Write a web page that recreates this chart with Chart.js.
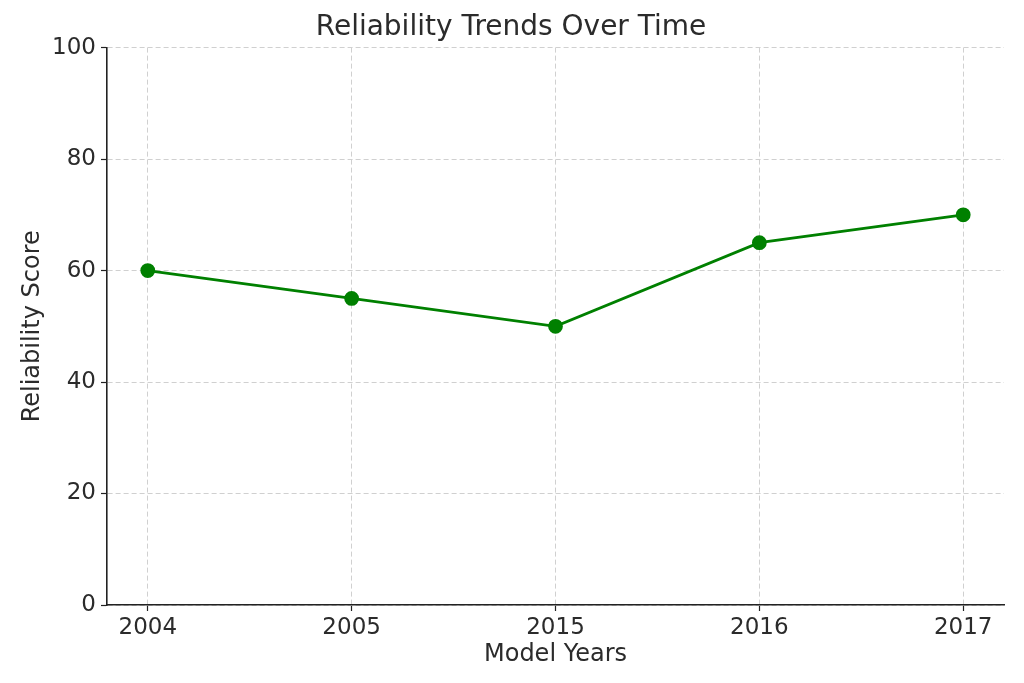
<!DOCTYPE html>
<html lang="en">
<head>
  <meta charset="UTF-8" />
  <title>Reliability Trends Over Time</title>
  <script src="https://cdn.jsdelivr.net/npm/chart.js"></script>
  <style>
    html, body { margin: 0; padding: 0; background: #fff; }
  </style>
</head>
<body>
  <canvas id="trendChart" width="1024" height="683"></canvas>
  <script>
    const years = ['2004', '2005', '2015', '2016', '2017'];
    const scores = [60, 55, 50, 65, 70];
    const yTicks = [0, 20, 40, 60, 80, 100];

    const textColor = '#2b2b2b';
    const axisColor = '#222';
    const gridColor = '#d0d0d0';
    const font = 'DejaVu Sans';

    new Chart(document.getElementById('trendChart'), {
      type: 'line',
      data: {
        datasets: [{
          label: 'Reliability Score',
          data: scores.map((v, i) => ({ x: i, y: v })),
          borderColor: '#008000',
          backgroundColor: '#008000',
          borderWidth: 2.8,
          pointRadius: 6,
          pointHoverRadius: 6,
          tension: 0,
          fill: false
        }]
      },
      options: {
        responsive: false,
        animation: false,
        layout: { padding: { left: 18, right: 20, top: 0, bottom: 14 } },
        plugins: {
          legend: { display: false },
          tooltip: { enabled: false },
          title: {
            display: true,
            text: 'Reliability Trends Over Time',
            color: textColor,
            font: { family: font, size: 28, weight: 'normal' },
            padding: { top: 11, bottom: 3 }
          }
        },
        scales: {
          x: {
            type: 'linear',
            min: -0.2,
            max: years.length - 1 + 0.2,
            afterBuildTicks: s => { s.ticks = years.map((_, i) => ({ value: i })); },
            afterFit: s => { s.height = 64; },
            ticks: {
              callback: v => years[v],
              color: textColor,
              font: { family: font, size: 23 },
              padding: 3,
              maxRotation: 0
            },
            grid: {
              color: gridColor,
              tickLength: 6,
              tickColor: axisColor,
              tickBorderDash: [],
              tickWidth: 1.2
            },
            border: { display: true, color: axisColor, width: 1.6, dash: [5, 3] },
            title: {
              display: true,
              text: 'Model Years',
              color: textColor,
              font: { family: font, size: 24 },
              padding: 0
            }
          },
          y: {
            min: 0,
            max: 100,
            afterBuildTicks: s => { s.ticks = yTicks.map(v => ({ value: v })); },
            afterFit: s => { s.width = 89; },
            ticks: {
              color: textColor,
              font: { family: font, size: 23 },
              padding: 5
            },
            grid: {
              color: gridColor,
              tickLength: 6,
              tickColor: axisColor,
              tickBorderDash: [],
              tickWidth: 1.2
            },
            border: { display: true, color: axisColor, width: 1.6, dash: [5, 3] },
            title: {
              display: true,
              text: 'Reliability Score',
              color: textColor,
              font: { family: font, size: 24 },
              padding: 0
            }
          }
        }
      }
    });
  </script>
</body>
</html>
